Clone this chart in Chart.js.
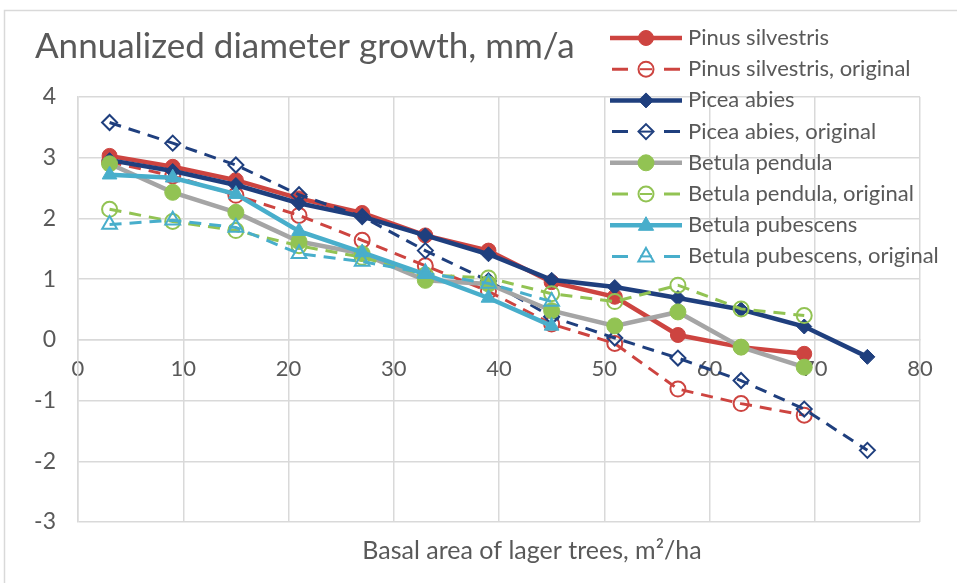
<!DOCTYPE html>
<html>
<head>
<meta charset="utf-8">
<script src="https://cdn.jsdelivr.net/npm/chart.js@4.4.0/dist/chart.umd.min.js"></script>
<style>
    body { margin: 0; background: #fff; }
    #wrap { width: 957px; height: 583px; position: relative; }
</style>
</head>
<body>
<div id="wrap"><canvas id="myChart" width="957" height="583"></canvas></div>
<script>
"use strict";
// Data
const xVals = [3, 9, 15, 21, 27, 33, 39, 45, 51, 57, 63, 69, 75];

const pinus = [3.03, 2.85, 2.63, 2.33, 2.09, 1.72, 1.47, 0.95, 0.71, 0.08, -0.12, -0.23];
const pinusOrig = [2.93, 2.7, 2.38, 2.05, 1.64, 1.22, 0.8, 0.26, -0.06, -0.81, -1.05, -1.24];
const picea = [2.96, 2.78, 2.55, 2.25, 2.03, 1.72, 1.41, 0.99, 0.87, 0.69, 0.5, 0.22, -0.28];
const piceaOrig = [3.58, 3.24, 2.88, 2.39, 2.03, 1.47, 0.97, 0.38, 0.03, -0.3, -0.67, -1.14, -1.82];
const pendula = [2.9, 2.43, 2.1, 1.62, 1.42, 0.98, 0.92, 0.48, 0.23, 0.46, -0.12, -0.45];
const pendulaOrig = [2.15, 1.95, 1.8, 1.55, 1.36, 1.07, 1.02, 0.76, 0.63, 0.9, 0.51, 0.4];
const pubescens = [2.72, 2.67, 2.4, 1.79, 1.44, 1.08, 0.69, 0.23];
const pubescensOrig = [1.9, 1.97, 1.85, 1.42, 1.29, 1.1, 0.93, 0.63];

const xTicks = [0, 10, 20, 30, 40, 50, 60, 70, 80];
const yTicks = [-3, -2, -1, 0, 1, 2, 3, 4];

const FONT = "Lato, 'Noto Sans', sans-serif";
const TEXT = '#595959';

const RED = '#CD4440';
const NAVY = '#1F3F7E';
const GREY = '#A5A5A5';
const GREEN = '#92C353';
const CYAN = '#48AECB';

function pts(ys) {
    return ys.map((y, i) => ({ x: xVals[i], y: y }));
}

// solid = fitted series, dashed = original
function series(label, ys, lineColor, markColor, style, dashed, radius) {
    return {
        label: label,
        data: pts(ys),
        borderColor: lineColor,
        borderWidth: dashed ? 3 : 4.5,
        borderDash: dashed ? [12, 8] : [],
        pointStyle: style,
        pointRadius: radius,
        pointHoverRadius: radius,
        pointBackgroundColor: dashed ? 'rgba(0,0,0,0)' : markColor,
        pointBorderColor: markColor,
        pointBorderWidth: dashed ? 2 : 1,
        tension: 0,
        fill: false
    };
}

const datasets = [
    series('Pinus silvestris', pinus, RED, RED, 'circle', false, 7.5),
    series('Pinus silvestris, original', pinusOrig, RED, RED, 'circle', true, 7.5),
    series('Picea abies', picea, NAVY, NAVY, 'rectRot', false, 7.5),
    series('Picea abies, original', piceaOrig, NAVY, NAVY, 'rectRot', true, 7.5),
    series('Betula pendula', pendula, GREY, GREEN, 'circle', false, 8),
    series('Betula pendula, original', pendulaOrig, GREEN, GREEN, 'circle', true, 7.5),
    series('Betula pubescens', pubescens, CYAN, CYAN, 'triangle', false, 8.5),
    series('Betula pubescens, original', pubescensOrig, CYAN, CYAN, 'triangle', true, 8.5)
];
// later series on top, like the original
datasets.forEach((d, i) => { d.order = datasets.length - i; });

function marker(ctx, style, x, y, r) {
    ctx.beginPath();
    if (style === 'circle') {
        ctx.arc(x, y, r, 0, Math.PI * 2);
    } else if (style === 'rectRot') {
        ctx.moveTo(x, y - r); ctx.lineTo(x + r, y); ctx.lineTo(x, y + r); ctx.lineTo(x - r, y);
        ctx.closePath();
    } else {
        ctx.moveTo(x, y - r); ctx.lineTo(x + r * 0.9, y + r * 0.6); ctx.lineTo(x - r * 0.9, y + r * 0.6);
        ctx.closePath();
    }
}

// title, legend, axis title and outer frame
const decor = {
    id: 'decor',
    afterDraw(chart) {
        const ctx = chart.ctx;
        ctx.save();
        ctx.strokeStyle = '#D9D9D9';
        ctx.lineWidth = 1.5;
        ctx.beginPath();
        ctx.moveTo(4.5, 583); ctx.lineTo(4.5, 10.5); ctx.lineTo(957, 10.5);
        ctx.stroke();

        ctx.fillStyle = TEXT;
        ctx.textBaseline = 'middle';
        ctx.textAlign = 'left';
        ctx.font = '35px ' + FONT;
        ctx.fillText('Annualized diameter growth, mm/a', 35, 47);

        ctx.font = '25px ' + FONT;
        ctx.textAlign = 'center';
        ctx.fillText('Basal area of lager trees, m\u00B2/ha', 532, 551);

        ctx.textAlign = 'left';
        datasets.forEach((d, i) => {
            const y = 38 + i * 31.2;
            const dashed = d.borderDash.length > 0;
            ctx.strokeStyle = d.borderColor;
            ctx.lineWidth = d.borderWidth;
            ctx.beginPath();
            if (dashed) {
                ctx.moveTo(612, y); ctx.lineTo(628, y);
                ctx.moveTo(664, y); ctx.lineTo(680, y);
            } else {
                ctx.moveTo(610, y); ctx.lineTo(682, y);
            }
            ctx.stroke();
            marker(ctx, d.pointStyle, 646, y, d.pointRadius);
            ctx.strokeStyle = d.pointBorderColor;
            ctx.lineWidth = d.pointBorderWidth;
            if (!dashed) {
                ctx.fillStyle = d.pointBackgroundColor;
                ctx.fill();
            }
            ctx.stroke();
            if (dashed) {
                ctx.beginPath();
                ctx.moveTo(640, y); ctx.lineTo(652, y);
                ctx.stroke();
            }
            ctx.fillStyle = TEXT;
            ctx.font = '22px ' + FONT;
            ctx.fillText(d.label, 688, y);
        });
        ctx.restore();
    }
};

const myChart = new Chart(document.getElementById('myChart'), {
    type: 'line',
    data: { datasets: datasets },
    plugins: [decor],
    options: {
        responsive: false,
        animation: false,
        devicePixelRatio: 1,
        layout: { padding: { left: 18, right: 37, top: 97, bottom: 61 } },
        plugins: { legend: { display: false }, tooltip: { enabled: false } },
        scales: {
            x: {
                type: 'linear',
                position: { y: 0 },
                min: 0,
                max: 80,
                afterBuildTicks: (s) => { s.ticks = xTicks.map(v => ({ value: v })); },
                grid: { color: '#D9D9D9', lineWidth: 1.5, drawTicks: false },
                border: { color: '#D9D9D9', width: 1.5 },
                ticks: { color: TEXT, font: { family: FONT, size: 22 }, padding: 16 }
            },
            y: {
                min: -3,
                max: 4,
                afterBuildTicks: (s) => { s.ticks = yTicks.map(v => ({ value: v })); },
                afterFit: (s) => { s.width = 60; },
                grid: { color: '#D9D9D9', lineWidth: 1.5, drawTicks: false },
                border: { color: '#D9D9D9', width: 1.5 },
                ticks: { color: TEXT, font: { family: FONT, size: 23 }, padding: 22 }
            }
        }
    }
});
</script>
</body>
</html>
